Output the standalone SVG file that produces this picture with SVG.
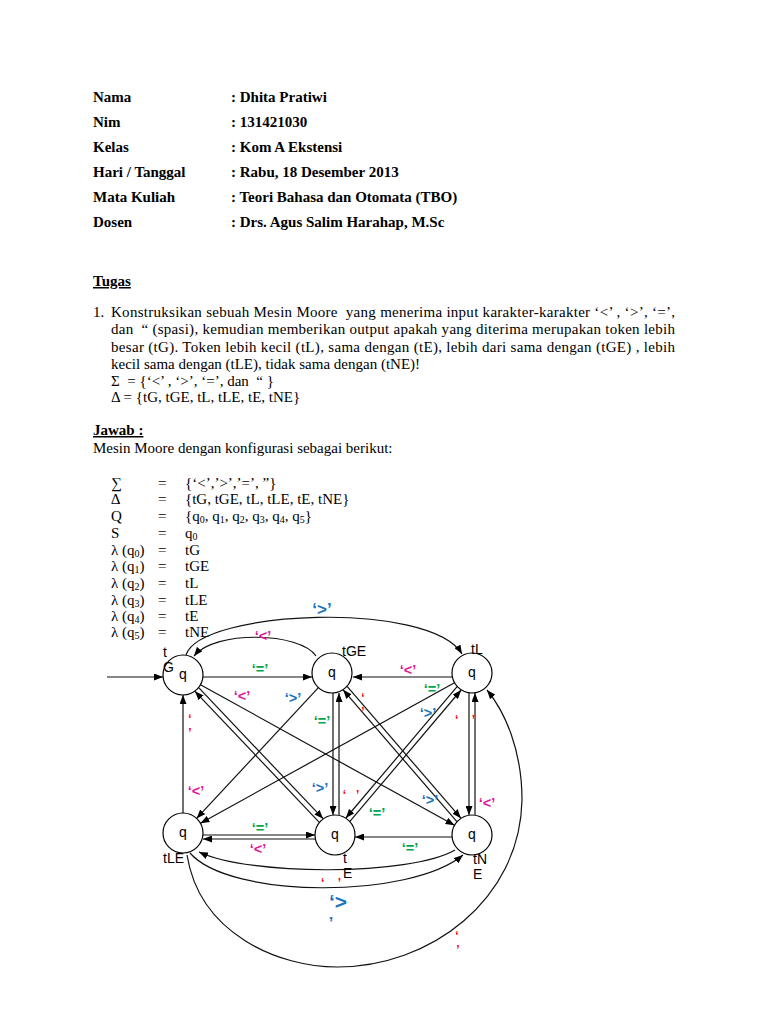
<svg xmlns="http://www.w3.org/2000/svg" width="768" height="1024" viewBox="0 0 768 1024">
<defs>
<marker id="arr" markerWidth="9" markerHeight="7" refX="9" refY="3.5" orient="auto" markerUnits="userSpaceOnUse">
<path d="M0,0 L9,3.5 L0,7 z" fill="#000"/>
</marker>
</defs>
<style>
.hd{font-family:"Liberation Serif","Times New Roman",serif;font-size:15px;font-weight:bold;fill:#000}
.tx{font-family:"Liberation Serif","Times New Roman",serif;font-size:15px;fill:#000}
.pre{white-space:pre}
.sb{font-size:10px}
.nd circle{fill:#fff;stroke:#000;stroke-width:1.2}
.nd text{font-family:"Liberation Sans",Arial,sans-serif;font-size:14px;fill:#000}
.e{fill:none;stroke:#111;stroke-width:1.2}
.ea{marker-end:url(#arr)}
.lb{font-family:"Liberation Sans",Arial,sans-serif;font-size:14.5px;font-weight:bold;text-anchor:middle}
.g{fill:#00A650}.m{fill:#E0189A}.b{fill:#1A73BE}.r{fill:#FF0000;font-size:12px}
</style>
<rect width="768" height="1024" fill="#fff"/>

<g id="header" class="hd">
<text x="93" y="102">Nama</text><text x="231" y="102">: Dhita Pratiwi</text>
<text x="93" y="127">Nim</text><text x="231" y="127">: 131421030</text>
<text x="93" y="152">Kelas</text><text x="231" y="152">: Kom A Ekstensi</text>
<text x="93" y="177">Hari / Tanggal</text><text x="231" y="177">: Rabu, 18 Desember 2013</text>
<text x="93" y="202">Mata Kuliah</text><text x="231" y="202">: Teori Bahasa dan Otomata (TBO)</text>
<text x="93" y="227">Dosen</text><text x="231" y="227">: Drs. Agus Salim Harahap, M.Sc</text>
</g>

<g id="question">
<text class="hd" x="93" y="286" text-decoration="underline">Tugas</text>
<text class="tx" x="93" y="317">1.</text>
<text class="tx pre" x="111" y="317" textLength="564" lengthAdjust="spacing">Konstruksikan sebuah Mesin Moore  yang menerima input karakter-karakter ‘&lt;’ , ‘&gt;’, ‘=’,</text>
<text class="tx pre" x="111" y="334" textLength="564" lengthAdjust="spacing">dan  “ (spasi), kemudian memberikan output apakah yang diterima merupakan token lebih</text>
<text class="tx" x="111" y="352" textLength="564" lengthAdjust="spacing">besar (tG). Token lebih kecil (tL), sama dengan (tE), lebih dari sama dengan (tGE) , lebih</text>
<text class="tx" x="111" y="369">kecil sama dengan (tLE), tidak sama dengan (tNE)!</text>
<text class="tx pre" x="111" y="386">Σ  = {‘&lt;’ , ‘&gt;’, ‘=’, dan  “ }</text>
<text class="tx" x="111" y="402">Δ = {tG, tGE, tL, tLE, tE, tNE}</text>
</g>

<g id="answer" class="tx">
<text class="hd" x="93" y="435" text-decoration="underline">Jawab :</text>
<text x="93" y="453">Mesin Moore dengan konfigurasi sebagai berikut:</text>
<text x="111" y="488">∑</text><text x="158" y="488">=</text><text x="185" y="488">{‘&lt;’,’&gt;’,’=’, ”}</text>
<text x="111" y="504">∆</text><text x="158" y="504">=</text><text x="185" y="504">{tG, tGE, tL, tLE, tE, tNE}</text>
<text x="111" y="521">Q</text><text x="158" y="521">=</text><text x="185" y="521">{q<tspan class="sb" dy="2">0</tspan><tspan dy="-2">, q</tspan><tspan class="sb" dy="2">1</tspan><tspan dy="-2">, q</tspan><tspan class="sb" dy="2">2</tspan><tspan dy="-2">, q</tspan><tspan class="sb" dy="2">3</tspan><tspan dy="-2">, q</tspan><tspan class="sb" dy="2">4</tspan><tspan dy="-2">, q</tspan><tspan class="sb" dy="2">5</tspan><tspan dy="-2">}</tspan></text>
<text x="111" y="538">S</text><text x="158" y="538">=</text><text x="185" y="538">q<tspan class="sb" dy="2">0</tspan></text>
<text x="111" y="555">λ (q<tspan class="sb" dy="2">0</tspan><tspan dy="-2">)</tspan></text><text x="158" y="555">=</text><text x="185" y="555">tG</text>
<text x="111" y="571">λ (q<tspan class="sb" dy="2">1</tspan><tspan dy="-2">)</tspan></text><text x="158" y="571">=</text><text x="185" y="571">tGE</text>
<text x="111" y="588">λ (q<tspan class="sb" dy="2">2</tspan><tspan dy="-2">)</tspan></text><text x="158" y="588">=</text><text x="185" y="588">tL</text>
<text x="111" y="605">λ (q<tspan class="sb" dy="2">3</tspan><tspan dy="-2">)</tspan></text><text x="158" y="605">=</text><text x="185" y="605">tLE</text>
<text x="111" y="621">λ (q<tspan class="sb" dy="2">4</tspan><tspan dy="-2">)</tspan></text><text x="158" y="621">=</text><text x="185" y="621">tE</text>
<text x="111" y="637">λ (q<tspan class="sb" dy="2">5</tspan><tspan dy="-2">)</tspan></text><text x="158" y="637">=</text><text x="185" y="637">tNE</text>
</g>

<g id="connectors">
<path class="e ea" d="M107,677 H163"/>
<path class="e ea" d="M203,677 H312"/>
<path class="e ea" d="M452,677 H353"/>
<path class="e ea" d="M203,835 H315"/>
<path class="e ea" d="M315,839 H203"/>
<path class="e ea" d="M452,837 H355"/>
<path class="e ea" d="M183,813 V695"/>
<path class="e ea" d="M333,693 V815"/>
<path class="e ea" d="M339,815 V693"/>
<path class="e ea" d="M469,693 V815"/>
<path class="e ea" d="M475,815 V693"/>
<path class="e ea" d="M198.7,687.7 L323.1,818.7"/>
<path class="e ea" d="M319.3,822.3 L194.9,691.3"/>
<path class="e ea" d="M200.5,684.7 L454.5,825.3"/>
<path class="e ea" d="M318.4,687.6 L196.6,818.4"/>
<path class="e ea" d="M454.5,682.7 L200.5,823.3"/>
<path class="e ea" d="M457.1,686.6 L345.9,818"/>
<path class="e ea" d="M349.9,821.4 L461.1,690"/>
<path class="e ea" d="M347.1,686.4 L460.9,818.2"/>
<path class="e ea" d="M456.9,821.6 L343.1,689.8"/>
<path class="e ea" d="M316,656 C300,632 215,630 194,656"/>
<path class="e ea" d="M186,655 C200,610 430,600 462,654"/>
<path class="e ea" d="M455,850 C410,876 250,876 199,852"/>
<path class="e ea" d="M190,853 C230,899 410,899 463,855"/>
<path class="e ea" d="M187,855 C200,935 280,967 337,967 C430,967 520,900 522,800 C522,750 505,712 487,690"/>
</g>

<g id="q0" class="nd"><circle cx="183" cy="675" r="20"/><text x="183" y="679" text-anchor="middle">q</text><text x="163" y="657">t<tspan x="163" dy="15">G</tspan></text></g>
<g id="q1" class="nd"><circle cx="332" cy="673" r="20"/><text x="332" y="677" text-anchor="middle">q</text><text x="342" y="656">tGE</text></g>
<g id="q2" class="nd"><circle cx="472" cy="673" r="20"/><text x="472" y="677" text-anchor="middle">q</text><text x="471" y="654">tL</text></g>
<g id="q3" class="nd"><circle cx="183" cy="833" r="20"/><text x="183" y="837" text-anchor="middle">q</text><text x="163" y="863">tLE</text></g>
<g id="q4" class="nd"><circle cx="335" cy="835" r="20"/><text x="335" y="839" text-anchor="middle">q</text><text x="343" y="863">t<tspan x="343" dy="15">E</tspan></text></g>
<g id="q5" class="nd"><circle cx="472" cy="835" r="20"/><text x="472" y="839" text-anchor="middle">q</text><text x="473" y="864">tN<tspan x="473" dy="15">E</tspan></text></g>

<g id="labels" class="lb">
<text class="b" x="322" y="615" style="font-size:17px">‘&gt;’</text>
<text class="m" x="263" y="641">‘&lt;’</text>
<text class="g" x="260" y="674">‘=’</text>
<text class="m" x="242" y="701">‘&lt;’</text>
<text class="b" x="293" y="703">‘&gt;’</text>
<text class="r" x="190" y="723">‘<tspan x="190" dy="14">’</tspan></text>
<text class="g" x="322" y="726">‘=’</text>
<text class="r" x="363" y="702">‘<tspan x="363" dy="14">’</tspan></text>
<text class="m" x="408" y="675">‘&lt;’</text>
<text class="g" x="432" y="694">‘=’</text>
<text class="b" x="428" y="718">‘&gt;’</text>
<text class="r pre" x="465" y="724">‘    ’</text>
<text class="m" x="196" y="796">‘&lt;’</text>
<text class="b" x="320" y="793">‘&gt;’</text>
<text class="r pre" x="351" y="799">‘   ’</text>
<text class="g" x="377" y="818">‘=’</text>
<text class="b" x="430" y="805">‘&gt;’</text>
<text class="m" x="487" y="808">‘&lt;’</text>
<text class="g" x="260" y="833">‘=’</text>
<text class="m" x="258" y="854">‘&lt;’</text>
<text class="g" x="410" y="853">‘=’</text>
<text class="r pre" x="331" y="887">‘    ’</text>
<text class="b" x="338" y="909" style="font-size:21px">‘&gt;<tspan x="331" dy="20" style="font-size:16px">’</tspan></text>
<text class="r" x="457" y="940">‘<tspan x="458" dy="14">’</tspan></text>
</g>
</svg>
